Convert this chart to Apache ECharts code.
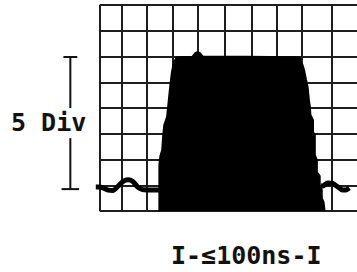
<!DOCTYPE html>
<html>
<head>
<meta charset="utf-8">
<script src="https://cdn.jsdelivr.net/npm/echarts@6/dist/echarts.min.js"></script>
<style>
html,body{margin:0;padding:0;background:#fff;}
#c{width:357px;height:272px;}
</style>
</head>
<body>
<div id="c"></div>
<script>
// Units: screen divisions (x: time divisions, y: amplitude divisions)
var xGrid = [0, 0.85, 1.83, 2.83, 3.83, 4.88, 5.90, 6.87, 7.84, 9.02];
var yGrid = [0, 1, 2, 3, 4, 5, 6, 7, 8];
var gridXStart = 0, gridXEnd = 10;

var noiseLeft = [[-0.15,0.93],[0,0.93],[0.15,0.89],[0.34,0.81],[0.53,0.80],[0.72,0.97],
  [0.91,1.15],[1.10,1.21],[1.29,1.15],[1.48,0.93],[1.67,0.83],[1.86,0.82],[2.16,0.82],[2.35,0.82]];
var noiseRight = [[8.60,0.97],[8.67,0.97],[8.86,1.09],[9.05,1.07],[9.24,0.95],[9.43,0.82],[9.58,0.82],[9.70,0.89]];

var pulse = [[2.31,0],[2.31,1.79],[2.35,2.14],[2.42,2.37],[2.46,2.95],[2.50,3.34],[2.61,3.65],
  [2.65,4.04],[2.69,4.43],[2.73,4.82],[2.80,5.40],[2.88,5.79],[2.99,5.98],[3.60,6.00],
  [3.71,6.14],[3.81,6.19],[3.90,6.14],[4.02,6.00],[5.64,6.00],[7.77,5.98],[7.88,5.71],
  [7.95,5.48],[8.03,5.09],[8.09,4.82],[8.14,4.31],[8.18,4.04],[8.20,3.73],[8.30,3.53],
  [8.30,3.07],[8.37,2.95],[8.37,2.17],[8.45,1.98],[8.45,1.51],[8.56,1.36],[8.56,1.01],
  [8.64,0.82],[8.64,0.50],[8.71,0.35],[8.75,0]];

// Measurement bracket (5 divisions), x position in divisions left of the grid
var bracketX = -1.14;
var bracketTop = 5.98, bracketBottom = 0.85;
var bracketGapTop = 4.0, bracketGapBottom = 2.83;
var capHalfTop = 0.27, capHalfBottom = 0.34;

var leftLabel = '5 Div';
var bottomLabel = 'I-\u2264100ns-I';

var gridColor = '#1e1e1e';

var gridLines = [];
xGrid.forEach(function(v){ gridLines.push({xAxis: v}); });
yGrid.forEach(function(v){ gridLines.push([{coord:[gridXStart, v]}, {coord:[gridXEnd, v]}]); });

var bracketSegs = [
  [[bracketX-capHalfTop, bracketTop], [bracketX+capHalfTop, bracketTop]],
  [[bracketX, bracketTop], [bracketX, bracketGapTop]],
  [[bracketX, bracketGapBottom], [bracketX, bracketBottom]],
  [[bracketX-capHalfBottom, bracketBottom], [bracketX+capHalfBottom, bracketBottom]]
];

var series = [
  {
    type:'line', data: [], z: 1, silent: true,
    markLine: {symbol:['none','none'], silent:true, label:{show:false},
      lineStyle:{color:gridColor, width:2, type:'solid'}, data: gridLines}
  },
  {
    type:'line', data: pulse, z: 5, symbol:'none', clip:false,
    lineStyle:{color:'#000', width:1.5}, areaStyle:{color:'#000', opacity:1, origin:'start'}
  },
  {
    type:'line', data: noiseLeft, z: 6, symbol:'none', clip:false, smooth:0.2,
    lineStyle:{color:'#000', width:5}
  },
  {
    type:'line', data: noiseRight, z: 6, symbol:'none', clip:false, smooth:0.2,
    lineStyle:{color:'#000', width:5}
  }
];
bracketSegs.forEach(function(s){
  series.push({type:'line', data: s, z: 6, symbol:'none', clip:false, silent:true,
    lineStyle:{color:'#111', width:2}});
});

var xMin = -2, pxPerDiv = 26.4;
var chart = echarts.init(document.getElementById('c'), null, {renderer:'svg'});
chart.setOption({
  animation: false,
  backgroundColor: '#fff',
  grid: {left: 101 + xMin*pxPerDiv, top: 5, width: (gridXEnd - xMin)*pxPerDiv, height: 206, containLabel: false},
  xAxis: {type:'value', min:xMin, max:gridXEnd, show:false, splitLine:{show:false}},
  yAxis: {type:'value', min:0, max:8, show:false, splitLine:{show:false}},
  graphic: [
    {type:'text', left: 11, top: 110, style:{text: leftLabel, font:'bold 25px "DejaVu Sans Mono"', fill:'#111'}},
    {type:'text', left: 171, top: 243, style:{text: bottomLabel, font:'bold 25px "DejaVu Sans Mono"', fill:'#111'}}
  ],
  series: series
});
</script>
</body>
</html>
